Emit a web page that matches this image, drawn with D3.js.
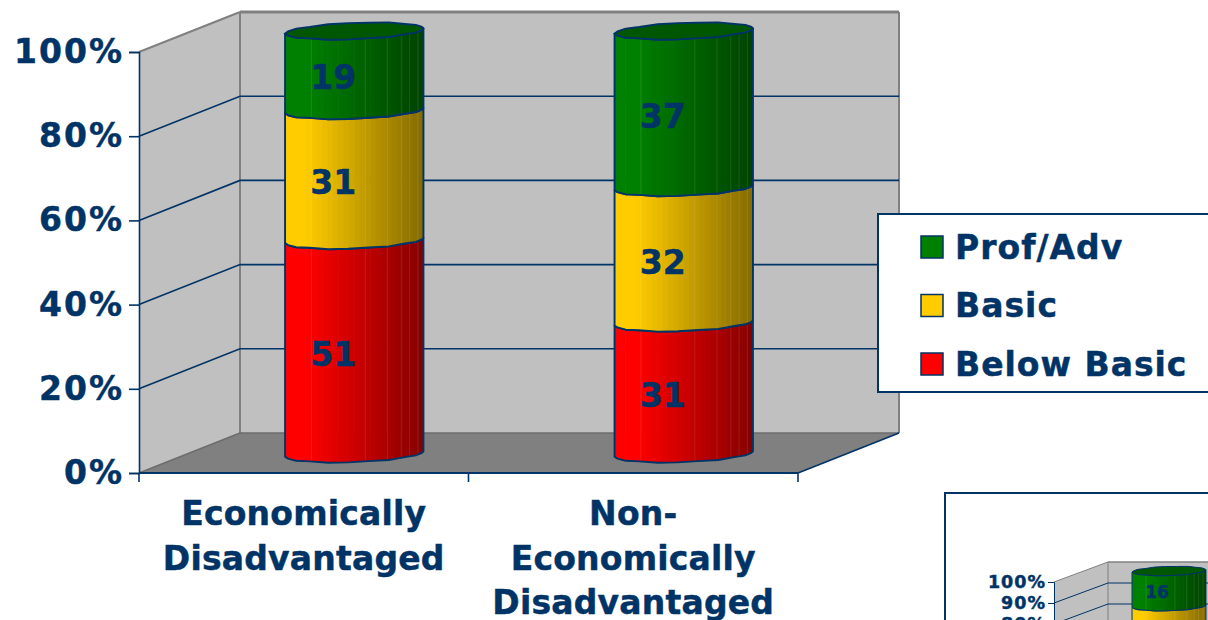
<!DOCTYPE html>
<html>
<head>
<meta charset="utf-8">
<script src="https://cdn.jsdelivr.net/npm/d3@7"></script>
<style>
html,body{margin:0;padding:0;background:#fff;overflow:hidden}
svg{display:block}
text{font-family:"DejaVu Sans",Verdana,sans-serif;font-weight:bold;fill:#003366;stroke:#003366;stroke-width:.45px}
</style>
</head>
<body>
<svg id="chart" width="1208" height="620"></svg>
<script>
// Reading proficiency by economic status
const seriesNames = ["Below Basic", "Basic", "Prof/Adv"];
const seriesColors = ["#FF0000", "#FFCC00", "#008000"];
const categories = [["Economically", "Disadvantaged"], ["Non-", "Economically", "Disadvantaged"]];
const belowBasic = [51, 31];
const basic = [31, 32];
const profAdv = [19, 37];
const axisTicks = [0, 20, 40, 60, 80, 100];
const legendOrder = ["Prof/Adv", "Basic", "Below Basic"];

// Second panel, cut off by the page edge
const smallBelowBasic = [38];
const smallBasic = [46];
const smallProfAdv = [16];
const smallTicks = [80, 90, 100];

const pageHeight = 620;
const navy = "#003366";
const wallEdge = "#808080";
const svg = d3.select("#chart");
const defs = svg.append("defs");
let clipCount = 0;

// Facet shading and highlight positions around a cylinder's visible side
const facetCount = 26;
const facetLines = [0.19, 0.58, 0.74, 0.84, 0.9, 0.96];
// Angles of the coarse polygon that approximates each cylinder rim
const rimAngles = [0, 12, 27, 43, 60, 78, 95, 112, 130, 147, 163, 180];
const rimRipple = [1, 0.9, 1.04, 0.93, 1.05, 0.98, 1.02, 1.05, 0.92, 1.06, 0.92, 1];

function shade(color, t) {
  const k = t < 0.14 ? 1 : 1 - 0.47 * (t - 0.14) / 0.86;
  const c = d3.rgb(color);
  return d3.rgb(c.r * k, c.g * k, c.b * k).formatHex();
}

function drawChart(o) {
  const g = svg.append("g");
  const x = d3.scaleBand().domain(d3.range(o.series[0].length)).range(o.xRange);
  const y = d3.scaleLinear().domain([0, 100]).range(o.yRange);
  const yBar = d3.scaleLinear().domain([0, 100]).range(o.barRange);
  const [dx, dy] = o.depth;
  const [x0, x1] = o.xRange;
  const y0 = y(0), y100 = y(100);

  // Walls and floor
  const poly = (pts, fill) => g.append("polygon")
    .attr("points", pts.map(p => p.join(",")).join(" ")).attr("fill", fill);
  const edge = (a, b, color, w) => g.append("line")
    .attr("x1", a[0]).attr("y1", a[1]).attr("x2", b[0]).attr("y2", b[1])
    .attr("stroke", color).attr("stroke-width", w);
  const sideTop = [x0, y100], backTopL = [x0 + dx, y100 + dy], backTopR = [x1 + dx, y100 + dy];
  const sideBottom = [x0, y0], backBottomL = [x0 + dx, y0 + dy], backBottomR = [x1 + dx, y0 + dy];
  poly([sideTop, backTopL, backBottomL, sideBottom], "#C0C0C0");
  poly([backTopL, backTopR, backBottomR, backBottomL], "#C0C0C0");
  poly([sideBottom, [x1, y0], backBottomR, backBottomL], "#808080");
  edge(backTopL, backTopR, wallEdge, o.wall * 1.4);
  edge(backTopR, backBottomR, wallEdge, o.wall);
  edge(backTopL, backBottomL, wallEdge, o.wall);
  edge(backBottomL, backBottomR, "#6c6c6c", o.wall * 0.8);
  edge(sideTop, backTopL, wallEdge, o.wall);
  edge(sideBottom, backBottomL, "#6c6c6c", o.wall * 0.7);

  // Gridlines run along the side wall and then across the back wall
  o.gridTicks.forEach(t => {
    if (t === 0 || t === 100) return;
    g.append("polyline")
      .attr("points", [[x0, y(t)], [x0 + dx, y(t) + dy], [x1 + dx, y(t) + dy]].map(p => p.join(",")).join(" "))
      .attr("fill", "none").attr("stroke", navy).attr("stroke-width", o.line);
  });
  edge([x1, y0], backBottomR, navy, o.line);

  // Stacked cylinders, normalised to 100% per category
  const bw = x.bandwidth() * 0.42;
  const rim = (cx, v, front) => {
    const cy = yBar(v);
    return rimAngles.map((a, i) => {
      const r = a * Math.PI / 180;
      const px = Math.cos(r) * bw / 2;
      const py = Math.sin(r) * o.ry * rimRipple[i];
      return [cx + px, cy + (front ? py : -py) - px * o.tilt];
    });
  };
  const line = d3.line();
  x.domain().forEach(i => {
    const cx = x(i) + x.bandwidth() / 2 + dx / 2;
    const total = d3.sum(o.series, s => s[i]);
    let acc = 0;
    o.series.forEach((s, k) => {
      const from = acc / total * 100;
      const to = (acc + s[i]) / total * 100;
      acc += s[i];
      const lower = rim(cx, from, true);
      const upper = rim(cx, to, true).reverse();
      const body = line(lower.concat(upper)) + "Z";
      const id = "side" + (clipCount++);
      defs.append("clipPath").attr("id", id).append("path").attr("d", body);
      const top = yBar(to) - o.ry - bw * o.tilt;
      const height = yBar(from) - yBar(to) + 2 * o.ry + 2 * bw * o.tilt;
      const side = g.append("g").attr("clip-path", `url(#${id})`);
      d3.range(facetCount).forEach(f => {
        side.append("rect")
          .attr("x", cx - bw / 2 + f * bw / facetCount)
          .attr("y", top)
          .attr("width", bw / facetCount + 0.6)
          .attr("height", height)
          .attr("fill", shade(o.colors[k], f / (facetCount - 1)));
      });
      facetLines.forEach(t => {
        side.append("line")
          .attr("x1", cx - bw / 2 + t * bw).attr("x2", cx - bw / 2 + t * bw)
          .attr("y1", top).attr("y2", top + height)
          .attr("stroke", "#fff").attr("stroke-opacity", 0.1).attr("stroke-width", 1);
      });
      g.append("path").attr("d", body).attr("fill", "none")
        .attr("stroke", navy).attr("stroke-width", o.rimLine).attr("stroke-linejoin", "round");
      if (k === o.series.length - 1) {
        const cap = rim(cx, to, false).concat(rim(cx, to, true).reverse());
        g.append("path").attr("d", line(cap) + "Z")
          .attr("fill", shade(o.colors[k], 0.72))
          .attr("stroke", navy).attr("stroke-width", o.rimLine);
      }
    });
    // Value labels go over the finished stack; those below the page are skipped
    acc = 0;
    o.series.forEach(s => {
      const mid = (acc + s[i] / 2) / total * 100;
      acc += s[i];
      const labelY = yBar(mid) + o.labelDrop;
      if (labelY > pageHeight) return;
      g.append("text").attr("x", cx + o.labelShift).attr("y", labelY)
        .attr("text-anchor", "middle").attr("dominant-baseline", "central")
        .attr("font-size", o.valueSize).text(s[i]);
    });
  });

  // Value axis
  const axis = d3.axisLeft(y).tickValues(o.axisTicks).tickFormat(d => d + "%")
    .tickSize(o.tick).tickPadding(o.pad);
  const ga = g.append("g").attr("transform", `translate(${x0},0)`).call(axis);
  ga.selectAll("path,line").attr("stroke", navy).attr("stroke-width", o.line);
  ga.selectAll("text").attr("font-family", null).attr("font-size", o.tickSize)
    .attr("fill", navy).attr("letter-spacing", o.tickSpacing);
  return {g, x, y};
}

const main = drawChart({
  series: [belowBasic, basic, profAdv], colors: seriesColors,
  xRange: [139, 798], yRange: [473, 52], barRange: [454, 31], depth: [101, -40],
  gridTicks: axisTicks, axisTicks, ry: 8, tilt: 0.038, wall: 2, line: 1.6, rimLine: 1.9,
  labelShift: -21, labelDrop: 7, valueSize: 33, tick: 10, pad: 5, tickSize: 33, tickSpacing: 2
});

// Category axis: ticks sit on the band edges
const mainEdges = [139, ...main.x.domain().map(i => main.x(i) + main.x.bandwidth())];
main.g.append("line").attr("x1", 139).attr("x2", 798).attr("y1", 473).attr("y2", 473)
  .attr("stroke", navy).attr("stroke-width", 2);
mainEdges.forEach(e => main.g.append("line").attr("x1", e).attr("x2", e).attr("y1", 473).attr("y2", 482)
  .attr("stroke", navy).attr("stroke-width", 1.6));
categories.forEach((lines, i) => {
  const text = main.g.append("text").attr("text-anchor", "middle").attr("font-size", 33)
    .attr("letter-spacing", 0.2);
  lines.forEach((l, j) => text.append("tspan")
    .attr("x", main.x(i) + main.x.bandwidth() / 2)
    .attr("y", 525 + j * 44.5).text(l));
});

// Legend
const legend = svg.append("g");
legend.append("rect").attr("x", 878).attr("y", 214).attr("width", 360).attr("height", 178)
  .attr("fill", "#fff").attr("stroke", navy).attr("stroke-width", 2);
const legendY = d3.scalePoint().domain(legendOrder).range([247, 364]);
legendOrder.forEach(name => {
  const cy = legendY(name);
  legend.append("rect").attr("x", 921).attr("y", cy - 11).attr("width", 22).attr("height", 22)
    .attr("fill", seriesColors[seriesNames.indexOf(name)]).attr("stroke", navy).attr("stroke-width", 1.5);
  legend.append("text").attr("x", 955).attr("y", cy).attr("dominant-baseline", "central")
    .attr("font-size", 33).attr("letter-spacing", 1).text(name);
});

// Second panel
svg.append("rect").attr("x", 945).attr("y", 493).attr("width", 400).attr("height", 300)
  .attr("fill", "#fff").attr("stroke", navy).attr("stroke-width", 2);
drawChart({
  series: [smallBelowBasic, smallBasic, smallProfAdv], colors: seriesColors,
  xRange: [1054, 1230], yRange: [792, 582], barRange: [791, 571], depth: [54, -20],
  gridTicks: smallTicks, axisTicks: smallTicks, ry: 4.5, tilt: 0.03, wall: 1, line: 1, rimLine: 1,
  labelShift: -12, labelDrop: 3.5, valueSize: 17, tick: 6, pad: 2, tickSize: 17.5, tickSpacing: 1
});
</script>
</body>
</html>
